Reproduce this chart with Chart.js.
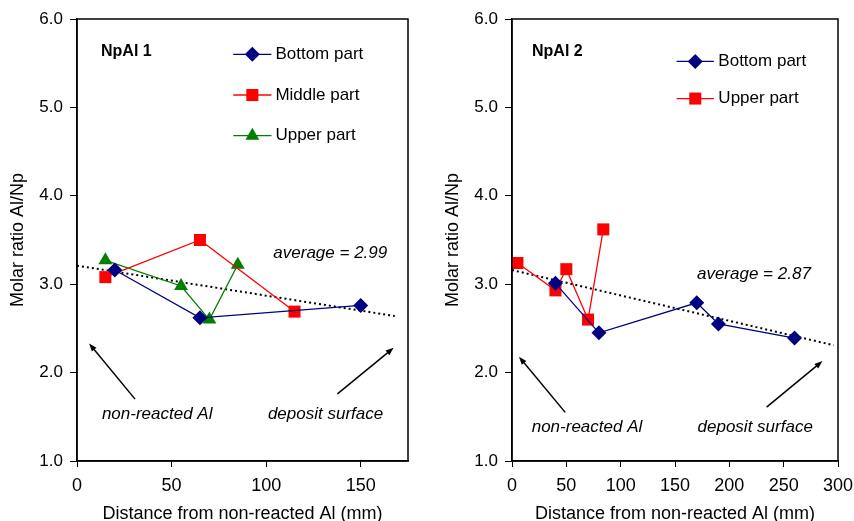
<!DOCTYPE html>
<html>
<head>
<meta charset="utf-8">
<script src="https://cdn.jsdelivr.net/npm/chart.js@4.4.0/dist/chart.umd.min.js"></script>
<style>
  html, body { margin: 0; padding: 0; background: #fff; }
  #wrap { position: relative; width: 854px; height: 521px; }
  canvas { position: absolute; top: 0; }
</style>
</head>
<body>
<div id="wrap">
  <canvas id="chart1" width="427" height="521" style="left:0"></canvas>
  <canvas id="chart2" width="427" height="521" style="left:427px"></canvas>
</div>
<script>
// NpAl 1 values
const npal1BottomX = [20, 65, 150];
const npal1BottomY = [3.16, 2.62, 2.76];
const npal1MiddleX = [15, 65, 115];
const npal1MiddleY = [3.08, 3.50, 2.69];
const npal1UpperX = [15, 55, 70, 85];
const npal1UpperY = [3.27, 2.98, 2.60, 3.22];
const npal1TrendX = [0, 168];
const npal1TrendY = [3.21, 2.64];

// NpAl 2 values
const npal2BottomX = [40, 80, 170, 190, 260];
const npal2BottomY = [3.01, 2.45, 2.79, 2.55, 2.39];
const npal2UpperX = [5, 40, 50, 70, 84];
const npal2UpperY = [3.24, 2.93, 3.17, 2.60, 3.62];
const npal2TrendX = [0, 296];
const npal2TrendY = [3.16, 2.31];

const yTicks = [1, 2, 3, 4, 5, 6];
const npal1XTicks = [0, 50, 100, 150];
const npal2XTicks = [0, 50, 100, 150, 200, 250, 300];

const FONT = '"Liberation Sans", Arial, sans-serif';
const BLUE = '#000080';
const RED = '#ff0000';
const GREEN = '#008000';

const toPoints = (xs, ys) => xs.map((x, i) => ({ x, y: ys[i] }));

const series = (label, xs, ys, color, style, radius) => ({
    label,
    data: toPoints(xs, ys),
    showLine: true,
    borderColor: color,
    backgroundColor: color,
    borderWidth: 1.3,
    pointStyle: style,
    pointRadius: radius,
    pointBorderWidth: 0,
});

const trend = (xs, ys) => ({
    label: 'average',
    data: toPoints(xs, ys),
    showLine: true,
    borderColor: '#000',
    borderWidth: 2,
    borderDash: [2, 3],
    pointRadius: 0,
});

// draw a marker like the ones in the legend
const drawMarker = (ctx, style, px, py, r, color) => {
    ctx.fillStyle = color;
    ctx.beginPath();
    if (style === 'rectRot') {
        ctx.moveTo(px - r, py); ctx.lineTo(px, py - r); ctx.lineTo(px + r, py); ctx.lineTo(px, py + r);
    } else if (style === 'rect') {
        const s = r * Math.SQRT1_2;
        ctx.rect(px - s, py - s, 2 * s, 2 * s);
    } else {
        ctx.moveTo(px, py - r);
        ctx.lineTo(px + r * 0.866, py + r * 0.5);
        ctx.lineTo(px - r * 0.866, py + r * 0.5);
    }
    ctx.closePath();
    ctx.fill();
};

const drawArrow = (ctx, x0, y0, x1, y1) => {
    const ang = Math.atan2(y1 - y0, x1 - x0);
    ctx.strokeStyle = '#000';
    ctx.fillStyle = '#000';
    ctx.lineWidth = 1.5;
    ctx.beginPath();
    ctx.moveTo(x0, y0);
    ctx.lineTo(x1 - 4 * Math.cos(ang), y1 - 4 * Math.sin(ang));
    ctx.stroke();
    ctx.beginPath();
    ctx.moveTo(x1, y1);
    ctx.lineTo(x1 - 8 * Math.cos(ang) + 3 * Math.sin(ang), y1 - 8 * Math.sin(ang) - 3 * Math.cos(ang));
    ctx.lineTo(x1 - 8 * Math.cos(ang) - 3 * Math.sin(ang), y1 - 8 * Math.sin(ang) + 3 * Math.cos(ang));
    ctx.closePath();
    ctx.fill();
};

// frame, panel title, legend, average label and arrows
const decorPlugin = {
    id: 'decor',
    afterDatasetsDraw(chart, args, opts) {
        const { ctx, chartArea: a, scales: { x, y } } = chart;
        ctx.save();
        ctx.strokeStyle = '#000';
        ctx.lineWidth = 1.5;
        ctx.strokeRect(a.left, a.top, a.right - a.left, a.bottom - a.top);

        ctx.fillStyle = '#000';
        ctx.textBaseline = 'middle';
        ctx.textAlign = 'left';
        ctx.font = 'bold 16px ' + FONT;
        ctx.fillText(opts.title.text, x.getPixelForValue(opts.title.x), y.getPixelForValue(opts.title.y));

        const lg = opts.legend;
        chart.data.datasets.slice(0, lg.rows.length).forEach((ds, i) => {
            const py = y.getPixelForValue(lg.rows[i]);
            ctx.strokeStyle = ds.borderColor;
            ctx.lineWidth = 1.3;
            ctx.beginPath();
            ctx.moveTo(x.getPixelForValue(lg.x0), py);
            ctx.lineTo(x.getPixelForValue(lg.x1), py);
            ctx.stroke();
            drawMarker(ctx, ds.pointStyle, x.getPixelForValue((lg.x0 + lg.x1) / 2), py, ds.pointRadius, ds.backgroundColor);
            ctx.fillStyle = '#000';
            ctx.font = '17px ' + FONT;
            ctx.fillText(ds.label, x.getPixelForValue(lg.text), py);
        });

        ctx.font = 'italic 17px ' + FONT;
        ctx.fillText(opts.average.text, x.getPixelForValue(opts.average.x), y.getPixelForValue(opts.average.y));

        ctx.textAlign = 'center';
        opts.notes.forEach(n => {
            ctx.fillStyle = '#000';
            ctx.font = 'italic 17px ' + FONT;
            ctx.fillText(n.text, x.getPixelForValue(n.x), y.getPixelForValue(n.y));
        });
        opts.arrows.forEach(ar => {
            drawArrow(ctx, x.getPixelForValue(ar[0]), y.getPixelForValue(ar[1]),
                x.getPixelForValue(ar[2]), y.getPixelForValue(ar[3]));
        });
        ctx.restore();
    }
};

const makeChart = (id, cfg) => new Chart(document.getElementById(id), {
    type: 'scatter',
    data: { datasets: cfg.datasets },
    options: {
        responsive: false,
        animation: false,
        layout: { padding: cfg.padding },
        plugins: {
            legend: { display: false },
            tooltip: { enabled: false },
            decor: cfg.decor,
        },
        scales: {
            x: {
                type: 'linear',
                min: 0,
                max: cfg.xMax,
                afterBuildTicks: (s) => { s.ticks = cfg.xTicks.map(v => ({ value: v })); },
                afterFit: (s) => { s.height = 60; s.paddingLeft = 0; s.paddingRight = 0; },
                grid: { drawOnChartArea: false, tickLength: 6, color: '#000', lineWidth: 1 },
                border: { color: '#000', width: 1.5 },
                ticks: { color: '#000', font: { family: FONT, size: 18 }, padding: 8, maxRotation: 0 },
                title: {
                    display: true, text: 'Distance from non-reacted Al (mm)', color: '#000',
                    font: { family: FONT, size: 18, lineHeight: 1 }, padding: { top: 0, bottom: -2 },
                },
            },
            y: {
                type: 'linear',
                min: 1,
                max: 6,
                afterBuildTicks: (s) => { s.ticks = yTicks.map(v => ({ value: v })); },
                afterFit: (s) => { s.width = cfg.yWidth; },
                grid: { drawOnChartArea: false, tickLength: 7, color: '#000', lineWidth: 1 },
                border: { color: '#000', width: 1.5 },
                ticks: { color: '#000', font: { family: FONT, size: 17 }, padding: 7, callback: v => v.toFixed(1) },
                title: {
                    display: true, text: 'Molar ratio Al/Np', color: '#000',
                    font: { family: FONT, size: 18 }, padding: { top: cfg.yTitlePad, bottom: 0 },
                },
            },
        },
    },
    plugins: [decorPlugin],
});

makeChart('chart1', {
    datasets: [
        series('Bottom part', npal1BottomX, npal1BottomY, BLUE, 'rectRot', 7.5),
        series('Middle part', npal1MiddleX, npal1MiddleY, RED, 'rect', 8.5),
        series('Upper part', npal1UpperX, npal1UpperY, GREEN, 'triangle', 8),
        trend(npal1TrendX, npal1TrendY),
    ],
    padding: { top: 19, right: 19, left: 0, bottom: 0 },
    xMax: 175,
    xTicks: npal1XTicks,
    yWidth: 77,
    yTitlePad: 7,
    decor: {
        title: { text: 'NpAl 1', x: 12.7, y: 5.63 },
        legend: { x0: 82.6, x1: 102.8, text: 104.9, rows: [5.60, 5.14, 4.68] },
        average: { text: 'average = 2.99', x: 103.8, y: 3.35 },
        notes: [
            { text: 'non-reacted Al', x: 42.4, y: 1.53 },
            { text: 'deposit surface', x: 131.4, y: 1.53 },
        ],
        arrows: [[30.7, 1.70, 6.4, 2.33], [137.7, 1.76, 167.4, 2.28]],
    },
});

makeChart('chart2', {
    datasets: [
        series('Bottom part', npal2BottomX, npal2BottomY, BLUE, 'rectRot', 7.5),
        series('Upper part', npal2UpperX, npal2UpperY, RED, 'rect', 8.5),
        trend(npal2TrendX, npal2TrendY),
    ],
    padding: { top: 19, right: 16, left: 0, bottom: 0 },
    xMax: 300,
    xTicks: npal2XTicks,
    yWidth: 85,
    yTitlePad: 15,
    decor: {
        title: { text: 'NpAl 2', x: 18.4, y: 5.63 },
        legend: { x0: 151.5, x1: 185.8, text: 189.9, rows: [5.52, 5.10] },
        average: { text: 'average = 2.87', x: 170.2, y: 3.11 },
        notes: [
            { text: 'non-reacted Al', x: 69, y: 1.38 },
            { text: 'deposit surface', x: 223.8, y: 1.38 },
        ],
        arrows: [[49, 1.55, 6.4, 2.18], [234.3, 1.61, 285.7, 2.13]],
    },
});
</script>
</body>
</html>
